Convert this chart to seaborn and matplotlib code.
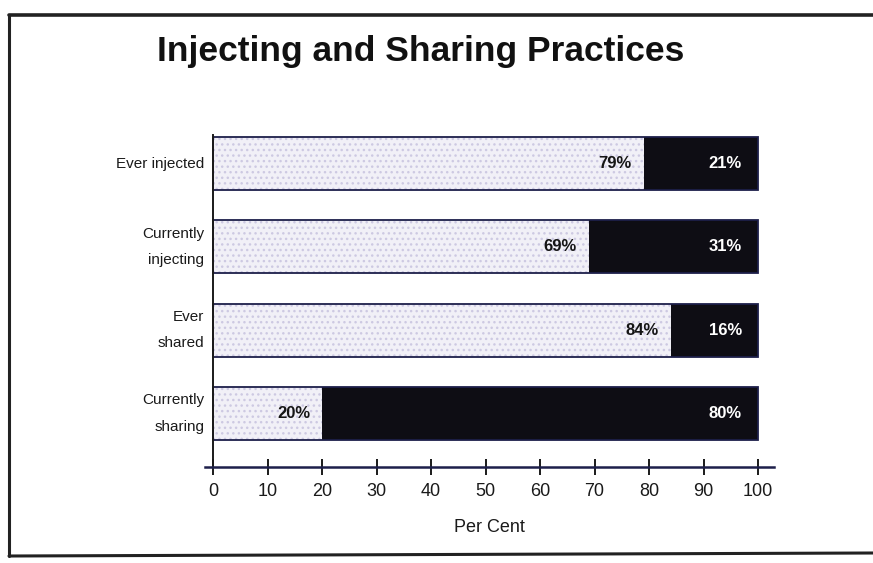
import matplotlib
matplotlib.use("Agg")
import matplotlib.pyplot as plt
from matplotlib.lines import Line2D
import seaborn as sns
import pandas as pd

# Survey results: share answering yes (light) vs no (dark), in per cent
categories = ["Ever injected", "Currently\ninjecting", "Ever\nshared", "Currently\nsharing"]
yes_pct = [79, 69, 84, 20]
no_pct = [21, 31, 16, 80]
x_ticks = [0, 10, 20, 30, 40, 50, 60, 70, 80, 90, 100]

sns.set_theme(style="white")
narrow = ["Liberation Sans Narrow", "Liberation Sans", "DejaVu Sans"]
plt.rcParams["font.family"] = ["Liberation Sans", "DejaVu Sans"]

df = pd.DataFrame({
    "category": categories,
    "yes": yes_pct,
    "total": [a + b for a, b in zip(yes_pct, no_pct)],
})

W, H = 873, 563
fig = plt.figure(figsize=(W / 100, H / 100), dpi=100)
fig.patch.set_facecolor("white")

x0, x100 = 213, 758
ppu = (x100 - x0) / 100.0
xmin, xmax = -1.5, 103.0
left_px = x0 + xmin * ppu
right_px = x0 + xmax * ppu
top_px, bot_px = 135, 467
ax = fig.add_axes([left_px / W, 1 - bot_px / H, (right_px - left_px) / W, (bot_px - top_px) / H])

bar_h = 0.636
dark = "#0e0d14"
light = "#f1f0f7"
outline = "#1d1f4a"

# dark "no" part drawn as the full stack, light "yes" part on top
sns.barplot(data=df, x="total", y="category", orient="h", color=dark,
            width=bar_h, saturation=1, ax=ax, linewidth=0)
sns.barplot(data=df, x="yes", y="category", orient="h", color=light,
            width=bar_h, saturation=1, ax=ax, linewidth=0)
n = len(categories)
for p in ax.patches[n:]:
    p.set_hatch("...")
    p.set_edgecolor("#cdc9e2")
    p.set_linewidth(0)
# thin dark outline around each bar
sns.barplot(data=df, x="total", y="category", orient="h", fill=False,
            width=bar_h, ax=ax, linewidth=1.3, edgecolor=outline)

for i, (y, nv) in enumerate(zip(yes_pct, no_pct)):
    ax.text(y - 2.2, i, f"{y}%", ha="right", va="center", fontsize=12,
            fontweight="bold", family=narrow, color="#151515")
    ax.text(94, i, f"{nv}%", ha="center", va="center", fontsize=12,
            fontweight="bold", family=narrow, color="white")

ax.set_xlim(xmin, xmax)
ax.set_ylim(3 + (bot_px - 413.5) / 83.33, -(163.5 - top_px) / 83.33)
ax.set_xticks(x_ticks)
ax.set_xticklabels([str(t) for t in x_ticks], fontsize=13, color="#1a1a1a")
ax.set_xlabel("Per Cent", fontsize=13, color="#1a1a1a", labelpad=14)
ax.set_ylabel("")

# category names drawn beside the axis with generous line spacing
ax.set_yticks(range(n))
ax.set_yticklabels([])
ytrans = ax.get_yaxis_transform()
for i, name in enumerate(categories):
    ax.text(-0.001, i, name, transform=ytrans, ha="right", va="center",
            fontsize=11, family=narrow, color="#1a1a1a", linespacing=2.15,
            multialignment="right")
ax.tick_params(axis="y", length=0, pad=8)
ax.tick_params(axis="x", direction="inout", length=11, width=1.4,
               color="#1a1a1a", bottom=True, pad=6)

for s in ["top", "right"]:
    ax.spines[s].set_visible(False)
ax.spines["left"].set_position(("data", 0))
ax.spines["left"].set_color("#1a1a1a")
ax.spines["left"].set_linewidth(1.4)
ax.spines["bottom"].set_color("#1d1f4a")
ax.spines["bottom"].set_linewidth(1.8)
ax.patch.set_alpha(0)

fig.text(421 / W, 1 - 51 / H, "Injecting and Sharing Practices", ha="center",
         va="center", fontsize=25.5, fontweight="bold", family=narrow, color="#111111")

# page frame around the chart
frame = "#222222"
fig.add_artist(Line2D([9 / W, 1.0], [1 - 15 / H] * 2, color=frame, lw=2.6))
fig.add_artist(Line2D([9 / W] * 2, [1 - 15 / H, 1 - 556 / H], color=frame, lw=2.2))
fig.add_artist(Line2D([9 / W, 1.0], [1 - 556 / H, 1 - 553 / H], color=frame, lw=2.2))

fig.savefig("out.png", dpi=100)
